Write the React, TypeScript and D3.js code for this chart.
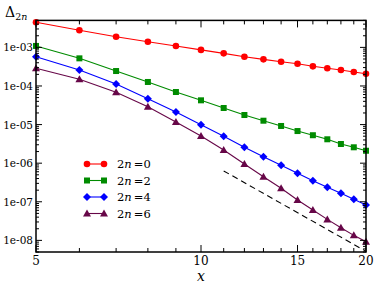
import React from 'react';
import * as d3 from 'd3';

// values (log-log plot)
const xValues = [5, 6, 7, 8, 9, 10, 11, 12, 13, 14, 15, 16, 17, 18, 19, 20];
const delta0 = [4.47e-3, 2.77e-3, 1.89e-3, 1.40e-3, 1.09e-3, 8.6e-4, 7.0e-4, 5.7e-4, 4.9e-4, 4.25e-4, 3.78e-4, 3.23e-4, 2.87e-4, 2.59e-4, 2.30e-4, 2.08e-4];
const delta2 = [1.09e-3, 5.2e-4, 2.44e-4, 1.27e-4, 6.98e-5, 4.25e-5, 2.69e-5, 1.77e-5, 1.26e-5, 9.2e-6, 6.8e-6, 5.3e-6, 4.16e-6, 3.14e-6, 2.58e-6, 2.10e-6];
const delta4 = [5.74e-4, 2.6e-4, 1.13e-4, 4.69e-5, 2.12e-5, 9.9e-6, 4.97e-6, 2.58e-6, 1.47e-6, 8.8e-7, 5.47e-7, 3.52e-7, 2.37e-7, 1.66e-7, 1.16e-7, 8.3e-8];
const delta6 = [2.87e-4, 1.49e-4, 6.85e-5, 2.9e-5, 1.17e-5, 5.06e-6, 2.2e-6, 9.5e-7, 4.47e-7, 2.24e-7, 1.11e-7, 6.1e-8, 3.5e-8, 2.13e-8, 1.35e-8, 9.2e-9];
const guideX = [11, 20];
const guideY = [6.3e-7, 5.2e-9];

const seriesLabels = ['0', '2', '4', '6'];
const colors = ['#ff0000', '#008b00', '#0000ff', '#670748'];
const shapes = ['circle', 'square', 'diamond', 'triangle'];
const xTickLabels = ['5', '10', '15', '20'];
const yTickLabels = ['1e-03', '1e-04', '1e-05', '1e-06', '1e-07', '1e-08'];

const W = 374, H = 284;
const left = 36, right = 366, top = 20.4, bottom = 252;
const FONT = 'DejaVu Serif';

function Marker({ shape, cx, cy, color }: { shape: string; cx: number; cy: number; color: string }) {
    if (shape === 'circle') return <circle cx={cx} cy={cy} r={3.3} fill={color} />;
    if (shape === 'square') return <rect x={cx - 3} y={cy - 3} width={6} height={6} fill={color} />;
    if (shape === 'diamond') return <path d={`M${cx},${cy - 4}L${cx + 4},${cy}L${cx},${cy + 4}L${cx - 4},${cy}Z`} fill={color} />;
    return <path d={`M${cx},${cy - 4}L${cx + 4},${cy + 3}L${cx - 4},${cy + 3}Z`} fill={color} />;
}

export default function App() {
    const x = d3.scaleLog().domain([5, 20]).range([left, right]);
    const y = d3.scaleLog().domain([5e-9, 5e-3]).range([bottom, top]);
    const all = [delta0, delta2, delta4, delta6];

    const line = d3.line<number>().x((_, i) => x(xValues[i])).y(d => y(d));
    const guide = d3.line<number>().x((_, i) => x(guideX[i])).y(d => y(d));

    const xMinor = d3.range(5, 21);
    const xMajor = xTickLabels.map(Number);
    const yMinor: number[] = [];
    for (let e = -9; e <= -3; e++) for (let m = 1; m <= 9; m++) {
        const v = m * Math.pow(10, e);
        if (v >= 5e-9 && v <= 5e-3) yMinor.push(v);
    }
    const yMajor = yTickLabels.map(Number);

    return (
        <svg width={W} height={H} fontFamily={FONT} style={{ position: 'absolute', left: 0, top: 0, background: '#fff' }}>
            {/* data lines */}
            {all.map((s, i) => (
                <path key={i} d={line(s) || ''} fill="none" stroke={colors[i]} strokeWidth={1.1} />
            ))}
            <path d={guide(guideY) || ''} fill="none" stroke="#000" strokeWidth={1.1} strokeDasharray="6,4" />
            {all.map((s, i) => s.map((v, j) => (
                <Marker key={`${i}-${j}`} shape={shapes[i]} cx={x(xValues[j])} cy={y(v)} color={colors[i]} />
            )))}

            {/* ticks */}
            <g stroke="#000" strokeWidth={1}>
                {xMinor.map(t => {
                    const len = xMajor.includes(t) ? 7 : 4;
                    return (
                        <g key={t}>
                            <line x1={x(t)} x2={x(t)} y1={bottom} y2={bottom - len} />
                            <line x1={x(t)} x2={x(t)} y1={top} y2={top + len} />
                        </g>
                    );
                })}
                {yMinor.map(t => {
                    const len = yMajor.some(m => Math.abs(m - t) / t < 1e-6) ? 6 : 3;
                    return (
                        <g key={t}>
                            <line x1={left} x2={left + len} y1={y(t)} y2={y(t)} />
                            <line x1={right} x2={right - len} y1={y(t)} y2={y(t)} />
                        </g>
                    );
                })}
            </g>
            <rect x={left} y={top} width={right - left} height={bottom - top} fill="none" stroke="#000" strokeWidth={1.5} />

            {/* tick labels */}
            {xMajor.map((t, i) => (
                <text key={t} x={x(t)} y={bottom + 13} fontSize={12} textAnchor="middle">{xTickLabels[i]}</text>
            ))}
            {yMajor.map((t, i) => (
                <text key={i} x={left - 3} y={y(t) + 4} fontSize={10.5} textAnchor="end">{yTickLabels[i]}</text>
            ))}

            {/* axis titles */}
            <text x={x(10)} y={281} fontSize={14} fontStyle="italic" textAnchor="middle">x</text>
            <text x={5} y={17} fontSize={14}>Δ<tspan fontSize={9.5} dy={3}>2</tspan><tspan fontSize={9.5} fontStyle="italic">n</tspan></text>

            {/* legend */}
            {seriesLabels.map((lab, i) => {
                const ly = 164 + i * 16.5;
                return (
                    <g key={lab}>
                        <line x1={87} x2={104} y1={ly} y2={ly} stroke={colors[i]} strokeWidth={1.1} />
                        <Marker shape={shapes[i]} cx={87} cy={ly} color={colors[i]} />
                        <Marker shape={shapes[i]} cx={104} cy={ly} color={colors[i]} />
                        <text x={117} y={ly + 4} fontSize={11.5}>2<tspan fontStyle="italic">n</tspan><tspan dx={2}>=</tspan>{lab}</text>
                    </g>
                );
            })}
        </svg>
    );
}
